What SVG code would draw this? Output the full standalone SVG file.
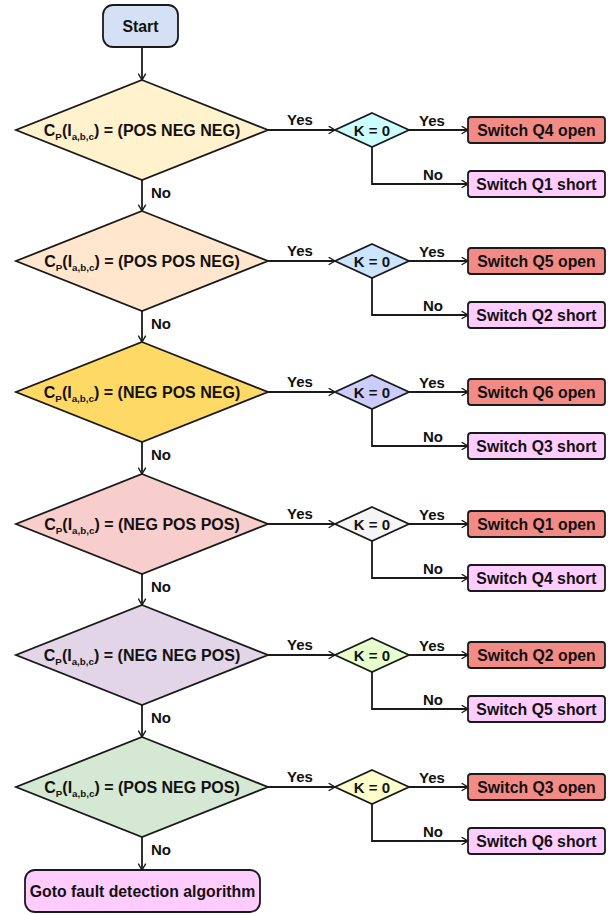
<svg xmlns="http://www.w3.org/2000/svg" width="612" height="915" viewBox="0 0 612 915">
<defs>
<marker id="ah" viewBox="0 0 10 12" refX="9.5" refY="6" markerWidth="7.5" markerHeight="9" markerUnits="userSpaceOnUse" orient="auto">
<path d="M1,1 L9.5,6 L1,11" fill="none" stroke="#1a1a1a" stroke-width="1.9"/>
</marker>
<style>
text{font-family:"Liberation Sans",Arial,sans-serif;font-weight:bold;fill:#111;}
.t{font-size:16px;text-anchor:middle;}
.s{font-size:9.8px;}
.l{font-size:15px;text-anchor:middle;}
.k{font-size:15px;text-anchor:middle;}
.b{font-size:15.8px;text-anchor:middle;}
.sh{stroke:#1a1a1a;stroke-width:1.8;}
.e{fill:none;stroke:#1a1a1a;stroke-width:1.8;marker-end:url(#ah);}
.open{fill:#f28b86;}
.short{fill:#ffccff;}
</style>
</defs>
<rect width="612" height="915" fill="#fff"/>

<g id="connectors">
<line class="e" x1="142" y1="47" x2="142" y2="80"/>
<line class="e" x1="142" y1="180" x2="142" y2="211"/>
<line class="e" x1="142" y1="311" x2="142" y2="342"/>
<line class="e" x1="142" y1="442" x2="142" y2="474"/>
<line class="e" x1="142" y1="574" x2="142" y2="605"/>
<line class="e" x1="142" y1="705" x2="142" y2="737"/>
<line class="e" x1="142" y1="837" x2="142" y2="870"/>
<g id="r1c">
<line class="e" x1="268" y1="130" x2="335" y2="130"/>
<line class="e" x1="409" y1="130" x2="468" y2="130"/>
<polyline class="e" points="372,147 372,184 468,184"/>
</g>
<g id="r2c">
<line class="e" x1="268" y1="261" x2="335" y2="261"/>
<line class="e" x1="409" y1="261" x2="468" y2="261"/>
<polyline class="e" points="372,278 372,315 468,315"/>
</g>
<g id="r3c">
<line class="e" x1="268" y1="392" x2="335" y2="392"/>
<line class="e" x1="409" y1="392" x2="468" y2="392"/>
<polyline class="e" points="372,409 372,446 468,446"/>
</g>
<g id="r4c">
<line class="e" x1="268" y1="524" x2="335" y2="524"/>
<line class="e" x1="409" y1="524" x2="468" y2="524"/>
<polyline class="e" points="372,541 372,578 468,578"/>
</g>
<g id="r5c">
<line class="e" x1="268" y1="655" x2="335" y2="655"/>
<line class="e" x1="409" y1="655" x2="468" y2="655"/>
<polyline class="e" points="372,672 372,709 468,709"/>
</g>
<g id="r6c">
<line class="e" x1="268" y1="787" x2="335" y2="787"/>
<line class="e" x1="409" y1="787" x2="468" y2="787"/>
<polyline class="e" points="372,804 372,841 468,841"/>
</g>
<g id="labels">
<text class="l" x="161" y="198">No</text>
<text class="l" x="161" y="329">No</text>
<text class="l" x="161" y="460">No</text>
<text class="l" x="161" y="592">No</text>
<text class="l" x="161" y="723">No</text>
<text class="l" x="161" y="855">No</text>
<text class="l" x="300" y="125">Yes</text>
<text class="l" x="300" y="256">Yes</text>
<text class="l" x="300" y="387">Yes</text>
<text class="l" x="300" y="519">Yes</text>
<text class="l" x="300" y="650">Yes</text>
<text class="l" x="300" y="782">Yes</text>
<text class="l" x="432" y="126">Yes</text>
<text class="l" x="432" y="257">Yes</text>
<text class="l" x="432" y="388">Yes</text>
<text class="l" x="432" y="520">Yes</text>
<text class="l" x="432" y="651">Yes</text>
<text class="l" x="432" y="783">Yes</text>
<text class="l" x="433" y="180">No</text>
<text class="l" x="433" y="311">No</text>
<text class="l" x="433" y="442">No</text>
<text class="l" x="433" y="574">No</text>
<text class="l" x="433" y="705">No</text>
<text class="l" x="433" y="837">No</text>
</g>
</g>

<g id="start">
<rect class="sh" x="103" y="5" width="75" height="42" rx="10" fill="#d4e1f5"/>
<text class="b" x="140.5" y="31.5">Start</text>
</g>

<g id="d1">
<polygon class="sh" points="142,80 268,130 142,180 16,130" fill="#fff2cc"/>
<text class="t" x="142" y="135.5">C<tspan class="s" dy="4">P</tspan><tspan dy="-4">(I</tspan><tspan class="s" dy="4">a,b,c</tspan><tspan dy="-4">) = (POS NEG NEG)</tspan></text>
</g>
<g id="d2">
<polygon class="sh" points="142,211 268,261 142,311 16,261" fill="#ffe6cc"/>
<text class="t" x="142" y="266.5">C<tspan class="s" dy="4">P</tspan><tspan dy="-4">(I</tspan><tspan class="s" dy="4">a,b,c</tspan><tspan dy="-4">) = (POS POS NEG)</tspan></text>
</g>
<g id="d3">
<polygon class="sh" points="142,342 268,392 142,442 16,392" fill="#ffd966"/>
<text class="t" x="142" y="397.5">C<tspan class="s" dy="4">P</tspan><tspan dy="-4">(I</tspan><tspan class="s" dy="4">a,b,c</tspan><tspan dy="-4">) = (NEG POS NEG)</tspan></text>
</g>
<g id="d4">
<polygon class="sh" points="142,474 268,524 142,574 16,524" fill="#f8cecc"/>
<text class="t" x="142" y="529.5">C<tspan class="s" dy="4">P</tspan><tspan dy="-4">(I</tspan><tspan class="s" dy="4">a,b,c</tspan><tspan dy="-4">) = (NEG POS POS)</tspan></text>
</g>
<g id="d5">
<polygon class="sh" points="142,605 268,655 142,705 16,655" fill="#e1d5e7"/>
<text class="t" x="142" y="660.5">C<tspan class="s" dy="4">P</tspan><tspan dy="-4">(I</tspan><tspan class="s" dy="4">a,b,c</tspan><tspan dy="-4">) = (NEG NEG POS)</tspan></text>
</g>
<g id="d6">
<polygon class="sh" points="142,737 268,787 142,837 16,787" fill="#d5e8d4"/>
<text class="t" x="142" y="792.5">C<tspan class="s" dy="4">P</tspan><tspan dy="-4">(I</tspan><tspan class="s" dy="4">a,b,c</tspan><tspan dy="-4">) = (POS NEG POS)</tspan></text>
</g>

<g id="k1"><polygon class="sh" points="372,113 409,130 372,147 335,130" fill="#ccffff"/><text class="k" x="372" y="135.5">K = 0</text></g>
<g id="k2"><polygon class="sh" points="372,244 409,261 372,278 335,261" fill="#cce5ff"/><text class="k" x="372" y="266.5">K = 0</text></g>
<g id="k3"><polygon class="sh" points="372,375 409,392 372,409 335,392" fill="#ccccff"/><text class="k" x="372" y="397.5">K = 0</text></g>
<g id="k4"><polygon class="sh" points="372,507 409,524 372,541 335,524" fill="#f5f5f5"/><text class="k" x="372" y="529.5">K = 0</text></g>
<g id="k5"><polygon class="sh" points="372,638 409,655 372,672 335,655" fill="#e6ffcc"/><text class="k" x="372" y="660.5">K = 0</text></g>
<g id="k6"><polygon class="sh" points="372,770 409,787 372,804 335,787" fill="#ffffcc"/><text class="k" x="372" y="792.5">K = 0</text></g>

<g id="o1"><rect class="sh open" x="468" y="117" width="137" height="26" rx="3"/><text class="b" x="536.5" y="135.5">Switch Q4 open</text></g>
<g id="s1"><rect class="sh short" x="468" y="171" width="137" height="26" rx="3"/><text class="b" x="536.5" y="189.5">Switch Q1 short</text></g>
<g id="o2"><rect class="sh open" x="468" y="248" width="137" height="26" rx="3"/><text class="b" x="536.5" y="266.5">Switch Q5 open</text></g>
<g id="s2"><rect class="sh short" x="468" y="302" width="137" height="26" rx="3"/><text class="b" x="536.5" y="320.5">Switch Q2 short</text></g>
<g id="o3"><rect class="sh open" x="468" y="379" width="137" height="26" rx="3"/><text class="b" x="536.5" y="397.5">Switch Q6 open</text></g>
<g id="s3"><rect class="sh short" x="468" y="433" width="137" height="26" rx="3"/><text class="b" x="536.5" y="451.5">Switch Q3 short</text></g>
<g id="o4"><rect class="sh open" x="468" y="511" width="137" height="26" rx="3"/><text class="b" x="536.5" y="529.5">Switch Q1 open</text></g>
<g id="s4"><rect class="sh short" x="468" y="565" width="137" height="26" rx="3"/><text class="b" x="536.5" y="583.5">Switch Q4 short</text></g>
<g id="o5"><rect class="sh open" x="468" y="642" width="137" height="26" rx="3"/><text class="b" x="536.5" y="660.5">Switch Q2 open</text></g>
<g id="s5"><rect class="sh short" x="468" y="696" width="137" height="26" rx="3"/><text class="b" x="536.5" y="714.5">Switch Q5 short</text></g>
<g id="o6"><rect class="sh open" x="468" y="774" width="137" height="26" rx="3"/><text class="b" x="536.5" y="792.5">Switch Q3 open</text></g>
<g id="s6"><rect class="sh short" x="468" y="828" width="137" height="26" rx="3"/><text class="b" x="536.5" y="846.5">Switch Q6 short</text></g>

<g id="end">
<rect class="sh" x="25" y="870" width="235" height="42" rx="10" fill="#ffccff"/>
<text class="b" x="142.5" y="896.5">Goto fault detection algorithm</text>
</g>
</svg>
